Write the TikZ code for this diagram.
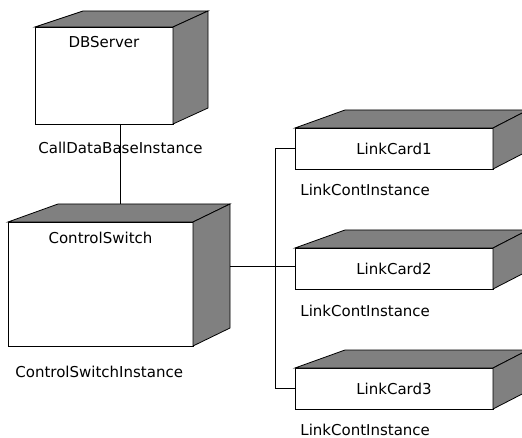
\documentclass[tikz,border=0pt]{standalone}
\usepackage{fontspec}
\setmainfont{DejaVu Sans}
\usepackage{tikz}

\begin{document}
\begin{tikzpicture}[x=1pt, y=-1pt, line width=0.8pt,
    front/.style={draw, fill=white, inner sep=0pt, outer sep=0pt, anchor=north west},
    face/.style={fill=gray, draw=black, line join=miter},
    lbl/.style={inner sep=0pt, font=\fontsize{15}{17}\selectfont}]
\useasboundingbox (0,0) rectangle (522,438);
\clip (0,0) rectangle (522,438);
% front faces
\node[front, minimum width=138pt, minimum height=97pt]  (db)  at (35,27)  {};
\node[front, minimum width=185pt, minimum height=124pt] (cs)  at (8,222)  {};
\node[front, minimum width=198pt, minimum height=41pt]  (lc1) at (295,128) {};
\node[front, minimum width=198pt, minimum height=41pt]  (lc2) at (295,248) {};
\node[front, minimum width=198pt, minimum height=41pt]  (lc3) at (295,368) {};
% top and side faces
\foreach \n/\dl/\dr/\dy in {db/48/35/16, cs/50/37/18, lc1/50/35/18, lc2/50/35/18, lc3/50/35/18}{
    \filldraw[face] (\n.north west) -- ([shift={(\dl pt,\dy pt)}]\n.north west)
        -- ([shift={(\dr pt,\dy pt)}]\n.north east) -- (\n.north east) -- cycle;
    \filldraw[face] (\n.north east) -- ([shift={(\dr pt,\dy pt)}]\n.north east)
        -- ([shift={(\dr pt,\dy pt)}]\n.south east) -- (\n.south east) -- cycle;
}
\coordinate (cstop) at ([shift={(20pt,18pt)}]cs.north);
\coordinate (csside) at ([shift={(37pt,18pt)}]cs.east);
% names
\node[lbl] (dbn)  at ([yshift=-15pt]db.north) {DBServer};
\node[lbl] (csn)  at ([yshift=-16pt]cs.north) {ControlSwitch};
\node[lbl] (lc1n) at (lc1.center) {LinkCard1};
\node[lbl] (lc2n) at (lc2.center) {LinkCard2};
\node[lbl] (lc3n) at (lc3.center) {LinkCard3};
% instance labels
\node[lbl, anchor=west] (dbi)  at (38,148) {CallDataBaseInstance};
\node[lbl, anchor=west] (csi)  at (15,372) {ControlSwitchInstance};
\node[lbl, anchor=west] (lc1i) at (300,190) {LinkContInstance};
\node[lbl, anchor=west] (lc2i) at (300,311) {LinkContInstance};
\node[lbl, anchor=west] (lc3i) at (300,430) {LinkContInstance};
% links
\draw (db.south -| cstop) -- (cstop);
\draw (csside) -- (csside -| lc2.west);
\draw (lc1.west) -- ++(-20,0) |- (lc3.west);
\end{tikzpicture}
\end{document}
